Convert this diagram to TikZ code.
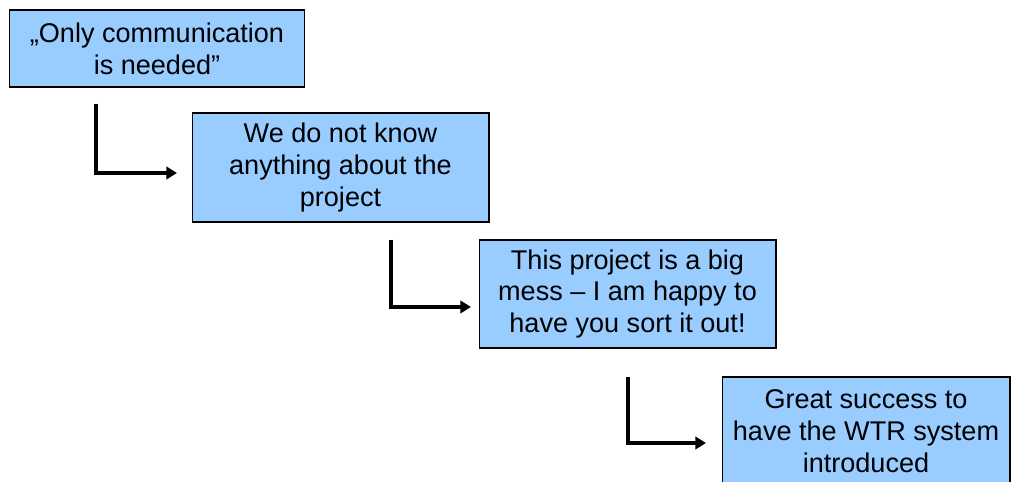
\documentclass[tikz,border=0pt]{standalone}
\usepackage{fontspec}
\setmainfont{Liberation Sans}
\usetikzlibrary{arrows.meta}
\definecolor{boxblue}{RGB}{153,204,255}
\tikzset{
    stage/.style={draw=black,line width=0.6pt,fill=boxblue,align=center,
        font=\fontsize{15.4}{18.2}\selectfont,inner sep=0pt},
    edge/.style={-{Triangle[length=6pt,width=7pt]},line width=2pt}
}

\begin{document}
\begin{tikzpicture}[x=0.02cm,y=-0.02cm]
\useasboundingbox (0,0) rectangle (1012,482);
\clip (0,0) rectangle (1012,482);

% Die vier Stufen von oben links nach unten rechts
\node[stage,minimum width=5.92cm,minimum height=1.54cm] (S1) at (157,48.5) {„Only communication\\is needed”};
\node[stage,minimum width=5.94cm,minimum height=2.18cm] (S2) at (340.5,167.5) {We do not know\\anything about the\\project};
\node[stage,minimum width=5.94cm,minimum height=2.16cm] (S3) at (627.5,294) {This project is a big\\mess – I am happy to\\have you sort it out!};
\node[stage,minimum width=5.76cm,minimum height=2.16cm] (S4) at (866,431) {Great success to\\have the WTR system\\introduced};

% Anfangs- und Endpunkte der Pfeile
\coordinate (a1) at (96,104);
\coordinate (b1) at (177,173);
\coordinate (a2) at (391,240);
\coordinate (b2) at (471,307);
\coordinate (a3) at (628,377);
\coordinate (b3) at (706,443);

% Pfeile
\draw[edge] (a1) |- (b1);
\draw[edge] (a2) |- (b2);
\draw[edge] (a3) |- (b3);
\end{tikzpicture}
\end{document}
